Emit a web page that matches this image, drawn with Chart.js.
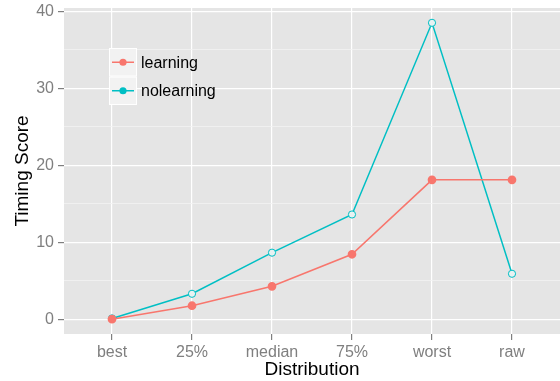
<!DOCTYPE html>
<html>
<head>
<meta charset="utf-8">
<script src="https://cdn.jsdelivr.net/npm/chart.js@4"></script>
<style>
  html, body { margin: 0; padding: 0; background: #fff; }
  #wrap { width: 560px; height: 381px; position: relative; }
</style>
</head>
<body>
<div id="wrap"><canvas id="chart"></canvas></div>
<script>
const categories = ['best', '25%', 'median', '75%', 'worst', 'raw'];
const learning = [0, 1.75, 4.27, 8.43, 18.1, 18.1];
const nolearning = [0.1, 3.3, 8.64, 13.6, 38.5, 5.9];
const yTicks = [0, 5, 10, 15, 20, 25, 30, 35, 40];

const red = '#F8766D';
const cyan = '#00BFC4';
const font = '"Liberation Sans", Arial, Helvetica, sans-serif';

// ggplot-style legend drawn inside the panel
const panelLegend = {
    id: 'panelLegend',
    afterDraw(chart) {
        const ctx = chart.ctx;
        const x = 109, y = 48, w = 28, h = 28.5;
        chart.data.datasets.forEach((ds, i) => {
            const top = y + i * h;
            ctx.save();
            ctx.fillStyle = '#F2F2F2';
            ctx.fillRect(x, top, w, h);
            ctx.strokeStyle = '#ffffff';
            ctx.lineWidth = 1;
            ctx.strokeRect(x + 0.5, top + 0.5, w - 1, h - 1);
            const cy = top + h / 2;
            ctx.strokeStyle = ds.borderColor;
            ctx.lineWidth = 1.5;
            ctx.beginPath();
            ctx.moveTo(x + 3, cy);
            ctx.lineTo(x + w - 3, cy);
            ctx.stroke();
            ctx.fillStyle = ds.borderColor;
            ctx.beginPath();
            ctx.arc(x + w / 2, cy, 3.6, 0, Math.PI * 2);
            ctx.fill();
            ctx.fillStyle = '#000';
            ctx.font = '16px ' + font;
            ctx.textBaseline = 'middle';
            ctx.fillText(ds.label, x + w + 4, cy + 1);
            ctx.restore();
        });
    }
};

const panelBg = {
    id: 'panelBg',
    beforeDraw(chart) {
        const a = chart.chartArea;
        chart.ctx.save();
        chart.ctx.fillStyle = '#E5E5E5';
        chart.ctx.fillRect(a.left, a.top, a.right - a.left, a.bottom - a.top);
        chart.ctx.restore();
    }
};

const chartCtx = document.getElementById('chart').getContext('2d');

const chart = new Chart(chartCtx, {
    type: 'line',
    data: {
        datasets: [{
            label: 'learning',
            data: learning.map((v, i) => ({ x: i, y: v })),
            borderColor: red,
            backgroundColor: red,
            pointBackgroundColor: red,
            pointBorderColor: red,
            borderWidth: 1.5,
            pointRadius: 3.6,
            tension: 0
        }, {
            label: 'nolearning',
            data: nolearning.map((v, i) => ({ x: i, y: v })),
            borderColor: cyan,
            backgroundColor: cyan,
            pointBackgroundColor: '#E8F2F2',
            pointBorderColor: cyan,
            pointBorderWidth: 1,
            borderWidth: 1.5,
            pointRadius: 3.6,
            tension: 0
        }]
    },
    options: {
        responsive: true,
        maintainAspectRatio: false,
        animation: false,
        layout: { autoPadding: false, padding: { top: 8, right: 0, left: 0, bottom: 0 } },
        plugins: {
            legend: { display: false },
            tooltip: { enabled: false }
        },
        scales: {
            x: {
                type: 'linear',
                min: -0.6,
                max: 5.6,
                afterBuildTicks: s => { s.ticks = categories.map((_, i) => ({ value: i })); },
                afterFit: s => { s.height = 47; s.paddingLeft = 0; s.paddingRight = 0; },
                border: { display: false },
                grid: {
                    color: '#ffffff',
                    lineWidth: 1.2,
                    tickColor: '#7F7F7F',
                    tickLength: 6
                },
                ticks: {
                    callback: v => categories[v],
                    color: '#7F7F7F',
                    font: { family: font, size: 16 },
                    padding: 3,
                    maxRotation: 0
                },
                title: {
                    display: true,
                    text: 'Distribution',
                    color: '#000',
                    font: { family: font, size: 19 },
                    padding: { top: 0, bottom: 0 }
                }
            },
            y: {
                min: -1.925,
                max: 40.425,
                afterBuildTicks: s => { s.ticks = yTicks.map(v => ({ value: v })); },
                afterFit: s => { s.width = 64; s.paddingTop = 0; s.paddingBottom = 0; },
                border: { display: false },
                grid: {
                    color: c => (c.tick && c.tick.value % 10 === 0) ? '#ffffff' : '#F2F2F2',
                    lineWidth: c => (c.tick && c.tick.value % 10 === 0) ? 1.2 : 0.8,
                    tickColor: c => (c.tick && c.tick.value % 10 === 0) ? '#7F7F7F' : 'rgba(0,0,0,0)',
                    tickLength: 6
                },
                ticks: {
                    callback: v => (v % 10 === 0 ? String(v) : ''),
                    color: '#7F7F7F',
                    font: { family: font, size: 16 },
                    padding: 4
                },
                title: {
                    display: true,
                    text: 'Timing Score',
                    color: '#000',
                    font: { family: font, size: 19 },
                    padding: { top: 11, bottom: 0 }
                }
            }
        }
    },
    plugins: [panelBg, panelLegend]
});
</script>
</body>
</html>
